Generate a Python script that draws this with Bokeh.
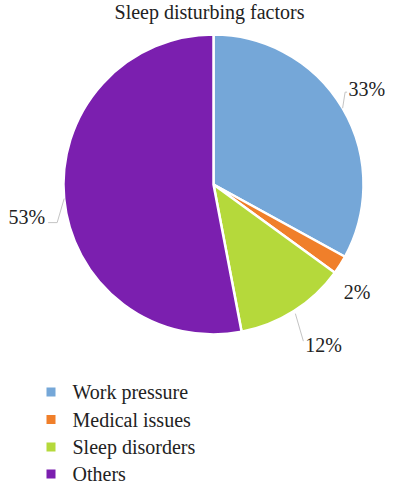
import math
from bokeh.plotting import figure
from bokeh.models import Range1d, ColumnDataSource
from bokeh.core.properties import value
from bokeh.embed import file_html
from bokeh.resources import INLINE

title = "Sleep disturbing factors"
categories = ["Work pressure", "Medical issues", "Sleep disorders", "Others"]
values = [33, 2, 12, 53]
colors = ["#75A7D8", "#F07F2A", "#B5D93B", "#7B1FAF"]

W, H = 385, 486
FONT = value("Liberation Serif")
FS = "20px"
TXT = "#222222"
LEAD = "#C4C4C4"

p = figure(width=W, height=H, output_backend="svg", toolbar_location=None,
           x_range=Range1d(0, W), y_range=Range1d(0, H),
           x_axis_type=None, y_axis_type=None, min_border=0)
p.outline_line_color = None
p.grid.visible = False

def Y(y):
    # picture pixels from the top -> data units
    return H - y

cx, cy, r = 213, 184, 150
total = sum(values)
starts, ends, fracs = [], [], []
cum = 0
for v in values:
    starts.append(math.pi / 2 - 2 * math.pi * (cum + v) / total)
    ends.append(math.pi / 2 - 2 * math.pi * cum / total)
    fracs.append((cum + v / 2) / total)
    cum += v

src = ColumnDataSource(dict(start=starts, end=ends, color=colors))
p.wedge(x=cx, y=Y(cy), radius=r, start_angle="start", end_angle="end",
        fill_color="color", line_color="white", line_width=2.5, source=src)

def edge(f):
    t = 2 * math.pi * f
    return cx + r * math.sin(t), cy - r * math.cos(t)

def label(x, y, s, align):
    p.text([x], [Y(y)], text=[s], text_font=FONT, text_font_size=FS,
           text_align=align, text_baseline="middle", text_color=TXT)

def leader(pts):
    p.line([q[0] for q in pts], [Y(q[1]) for q in pts], line_color=LEAD, line_width=1)

labels = [f"{v}%" for v in values]

# Work pressure
ex, ey = edge(fracs[0])
kx, ky = ex + 2.5, ey - 16
leader([(ex, ey), (kx, ky), (kx + 2, ky)])
label(kx + 3.5, ky - 3, labels[0], "left")

# Medical issues
ex, ey = edge(fracs[1])
label(ex + 3.5, ey + 27, labels[1], "left")

# Sleep disorders
ex, ey = edge(fracs[2])
kx, ky = ex + 9.5, ey + 30
leader([(ex + 1.5, ey + 2.5), (kx, ky)])
label(kx + 2, ky + 4, labels[2], "left")

# Others
ex, ey = edge(fracs[3])
kx, ky = ex - 7, ey + 24
leader([(ex, ey), (kx, ky), (kx - 9, ky)])
label(kx - 12, ky - 6, labels[3], "right")

# title
p.text([209], [Y(11)], text=[title], text_font=FONT, text_font_size=FS,
       text_align="center", text_baseline="middle", text_color=TXT)

# legend
mid = [391.5, 419, 446.5, 473.5]
p.scatter([50.5] * len(categories), [Y(m) for m in mid], marker="square",
          size=9, fill_color=colors, line_color=None)
p.text([72] * len(categories), [Y(m) for m in mid], text=categories,
       text_font=FONT, text_font_size=FS, text_align="left",
       text_baseline="middle", text_color=TXT)

open("out.html", "w").write(file_html(p, INLINE))
